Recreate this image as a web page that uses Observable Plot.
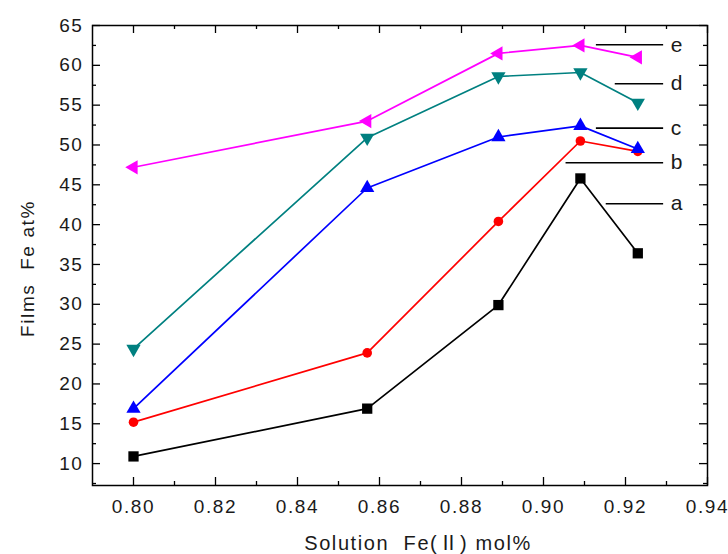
<!DOCTYPE html>
<html>
<head>
<meta charset="utf-8">
<script src="https://cdn.jsdelivr.net/npm/d3@7"></script>
<script src="https://cdn.jsdelivr.net/npm/@observablehq/plot@0.6"></script>
<style>
  html, body { margin: 0; padding: 0; background: #fff; }
  #chart svg { display: block; }
  #chart svg text { white-space: pre; letter-spacing: 1.6px; }
</style>
</head>
<body>
<div id="chart"></div>
<script>
// ---- data ----
const xValues = [0.800, 0.857, 0.889, 0.909, 0.923];
const seriesA = [10.9, 16.9, 29.9, 45.8, 36.4];
const seriesB = [15.2, 23.9, 40.4, 50.5, 49.2];
const seriesC = [16.9, 44.6, 51.0, 52.4, 49.5];
const seriesD = [24.4, 50.9, 58.6, 59.1, 55.3];
const seriesE = [47.2, 53.0, 61.5, 62.5, 61.0];
const seriesNames = ["a", "b", "c", "d", "e"];

// annotation leader lines (data units) and labels
const annotLabels = ["e", "d", "c", "b", "a"];
const annotY = [62.58, 57.69, 52.11, 47.77, 42.63];
const annotX1 = [0.9129, 0.9175, 0.9129, 0.9055, 0.9153];
const annotX2 = 0.9293;

// axis ticks
const xMajor = [0.80, 0.82, 0.84, 0.86, 0.88, 0.90, 0.92, 0.94];
const xMinor = [0.81, 0.83, 0.85, 0.87, 0.89, 0.91, 0.93];
const yMajor = [10, 15, 20, 25, 30, 35, 40, 45, 50, 55, 60, 65];
const yMinor = [7.5, 12.5, 17.5, 22.5, 27.5, 32.5, 37.5, 42.5, 47.5, 52.5, 57.5, 62.5];

const xLabel = "Solution  Fe(Ⅱ) mol%";
const yLabel = "Films  Fe at%";

// ---- custom symbols ----
const triangleDown = {
  draw(ctx, size) {
    const y = -Math.sqrt(size / (3 * Math.sqrt(3)));
    ctx.moveTo(0, -2 * y);
    ctx.lineTo(-Math.sqrt(3) * y, y);
    ctx.lineTo(Math.sqrt(3) * y, y);
    ctx.closePath();
  }
};
const triangleLeft = {
  draw(ctx, size) {
    const y = -Math.sqrt(size / (3 * Math.sqrt(3)));
    ctx.moveTo(2 * y, 0);
    ctx.lineTo(-y, -Math.sqrt(3) * y);
    ctx.lineTo(-y, Math.sqrt(3) * y);
    ctx.closePath();
  }
};

const seriesValues = [seriesA, seriesB, seriesC, seriesD, seriesE];
const styles = {
  a: {color: "#000000", symbol: "square", r: 5.8},
  b: {color: "#ff0000", symbol: "circle", r: 4.8},
  c: {color: "#0000ff", symbol: "triangle", r: 5.3},
  d: {color: "#008080", symbol: triangleDown, r: 5.3},
  e: {color: "#ff00ff", symbol: triangleLeft, r: 5.3}
};

const width = 728, height = 554;
const mL = 92, mR = 21, mT = 25, mB = 69;
const plotW = width - mL - mR, plotH = height - mT - mB;

const marks = [];
seriesNames.forEach((name, si) => {
  const rows = xValues.map((x, i) => ({x, y: seriesValues[si][i]}));
  const s = styles[name];
  marks.push(Plot.line(rows, {x: "x", y: "y", stroke: s.color, strokeWidth: 1.7}));
  marks.push(Plot.dot(rows, {x: "x", y: "y", symbol: () => s.symbol, r: s.r, fill: s.color, stroke: "none"}));
});

const annot = annotLabels.map((label, i) => ({label, y: annotY[i], x1: annotX1[i], x2: annotX2}));

const fontFamily = "Arial, 'Liberation Sans', 'Noto Sans CJK SC', sans-serif";

const chart = Plot.plot({
  width, height,
  marginLeft: mL, marginRight: mR, marginTop: mT, marginBottom: mB,
  x: {domain: [0.79, 0.94]},
  y: {domain: [7.25, 65]},
  style: {fontFamily, color: "#1a1a1a", background: "#fff"},
  marks: [
    ...marks,
    Plot.ruleY(annot, {y: "y", x1: "x1", x2: "x2", stroke: "#000", strokeWidth: 1.6}),
    Plot.text(annot, {x: "x2", y: "y", text: "label", textAnchor: "start", dx: 7, fontSize: 21, fill: "#1a1a1a"}),
    // inward ticks: bottom & top
    Plot.ruleX(xMajor, {x: d => d, insetTop: plotH - 8, stroke: "#000", strokeWidth: 1.3}),
    Plot.ruleX(xMinor, {x: d => d, insetTop: plotH - 4, stroke: "#000", strokeWidth: 1.3}),
    Plot.ruleX(xMajor, {x: d => d, insetBottom: plotH - 8, stroke: "#000", strokeWidth: 1.3}),
    Plot.ruleX(xMinor, {x: d => d, insetBottom: plotH - 4, stroke: "#000", strokeWidth: 1.3}),
    // inward ticks: left & right
    Plot.ruleY(yMajor, {y: d => d, insetRight: plotW - 8, stroke: "#000", strokeWidth: 1.3}),
    Plot.ruleY(yMinor, {y: d => d, insetRight: plotW - 4, stroke: "#000", strokeWidth: 1.3}),
    Plot.ruleY(yMajor, {y: d => d, insetLeft: plotW - 8, stroke: "#000", strokeWidth: 1.3}),
    Plot.ruleY(yMinor, {y: d => d, insetLeft: plotW - 4, stroke: "#000", strokeWidth: 1.3}),
    Plot.axisX({ticks: xMajor, tickSize: 0, tickPadding: 14, tickFormat: d3.format(".2f"), fontSize: 19, label: null}),
    Plot.axisY({ticks: yMajor, tickSize: 0, tickPadding: 9, fontSize: 19, label: null}),
    Plot.text([xLabel], {frameAnchor: "bottom", textAnchor: "middle", lineAnchor: "bottom", dx: 18, dy: 64, fontSize: 20, fill: "#1a1a1a"}),
    Plot.text([yLabel], {frameAnchor: "left", textAnchor: "middle", rotate: -90, dx: -65, dy: 13, fontSize: 19, fill: "#1a1a1a"}),
    Plot.frame({stroke: "#000", strokeWidth: 1.5})
  ]
});
document.getElementById("chart").appendChild(chart);
</script>
</body>
</html>
